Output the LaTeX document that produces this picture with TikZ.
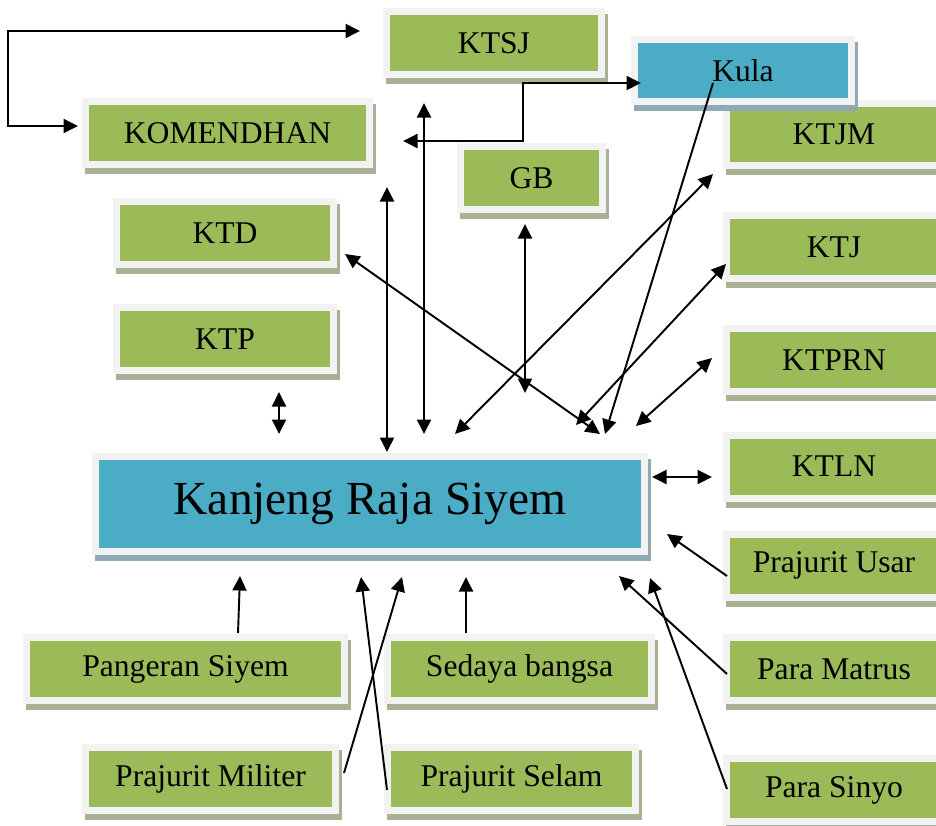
\documentclass[tikz,border=0pt]{standalone}
\usepackage{fontspec}
\setmainfont{Liberation Serif}
\usetikzlibrary{shadows}
\usetikzlibrary{arrows.meta}

\definecolor{hijau}{HTML}{9BBB59}
\definecolor{biru}{HTML}{4BACC6}
\definecolor{bingkai}{HTML}{F2F2F2}
\definecolor{bayanganhijau}{HTML}{A9B195}
\definecolor{bayanganbiru}{HTML}{8FAAB5}

\tikzset{
  kotak/.style 2 args={draw=bingkai, line width=0.14cm, fill=#1, inner sep=0pt,
    minimum height=1.26cm, font=\fontsize{18}{20}\selectfont,
    general shadow={fill=#2, draw=#2, line width=0.14cm,
      shadow xshift=0.06cm, shadow yshift=-0.12cm}},
  kotakH/.style={kotak={hijau}{bayanganhijau}},
  kotakB/.style={kotak={biru}{bayanganbiru}},
  panah/.style={line width=1.1pt}
}

\begin{document}
\begin{tikzpicture}[>={Triangle[length=0.29cm,width=0.28cm]}, x=0.02cm, y=-0.02cm]
    \clip (0,0) rectangle (936,825);

    % kotak kiwa
    \node[kotakH, minimum width=4.3cm] (ktsj) at (494,43) {KTSJ};
    \node[kotakH, minimum width=5.68cm] (komendhan) at (227.5,133) {KOMENDHAN};
    \node[kotakH, minimum width=2.84cm] (gb) at (531.5,178) {GB};
    \node[kotakH, minimum width=4.34cm] (ktd) at (225,233) {KTD};
    \node[kotakH, minimum width=4.34cm] (ktp) at (225,339) {KTP};

    % kotak tengen
    \node[kotakH, minimum width=4.3cm] (ktjm) at (834,134.5) {KTJM};
    \node[kotakB, minimum width=4.34cm] (kula) at (743,70.5) {Kula};
    \node[kotakH, minimum width=4.3cm] (ktj) at (834,247) {KTJ};
    \node[kotakH, minimum width=4.3cm] (ktprn) at (834,360) {KTPRN};
    \node[kotakH, minimum width=4.3cm] (ktln) at (834,466.5) {KTLN};
    \node[kotakH, minimum width=4.3cm] (usar) at (834,565.5) {Prajurit Usar};
    \node[kotakH, minimum width=4.3cm] (matrus) at (834,669) {Para Matrus};
    \node[kotakH, minimum width=4.3cm] (sinyo) at (834,790) {Para Sinyo};

    % kotak utama
    \node[kotakB, minimum width=10.98cm, minimum height=1.9cm,
      font=\fontsize{27}{30}\selectfont] (raja) at (370,504) {Kanjeng Raja Siyem};

    % kotak ngisor
    \node[kotakH, minimum width=6.36cm] (pangeran) at (185.5,669) {Pangeran Siyem};
    \node[kotakH, minimum width=5.28cm] (sedaya) at (519.5,669) {Sedaya bangsa};
    \node[kotakH, minimum width=5cm] (militer) at (210.5,779) {Prajurit Militer};
    \node[kotakH, minimum width=4.96cm] (selam) at (511.5,779) {Prajurit Selam};

    % titik ujung panah
    \coordinate (komenKiri) at (78,126);
    \coordinate (sudutKiri) at (8,126);
    \coordinate (ktsjKiri) at (360,31);
    \coordinate (kulaKiri) at (403,141);
    \coordinate (sudutKula) at (523,83);
    \coordinate (kulaMlebu) at (641,83);
    \coordinate (ktsjNgisor) at (424,103);
    \coordinate (rajaA) at (424,434);
    \coordinate (komenNgisor) at (387,187);
    \coordinate (rajaB) at (387,452);
    \coordinate (ktpNgisor) at (279,392);
    \coordinate (rajaC) at (279,434);
    \coordinate (ktdTengen) at (345,254);
    \coordinate (rajaD) at (600,434);
    \coordinate (gbNgisor) at (525,224);
    \coordinate (rajaE) at (525,393);
    \coordinate (ktjmKiwa) at (713,174);
    \coordinate (rajaF) at (455,434);
    \coordinate (ktjKiwa) at (726,264);
    \coordinate (rajaG) at (576,425);
    \coordinate (kulaTengah) at (713,83);
    \coordinate (rajaH) at (605,434);
    \coordinate (ktprnKiwa) at (712,358);
    \coordinate (rajaI) at (636,426);
    \coordinate (ktlnKiwa) at (712,477);
    \coordinate (rajaJ) at (652,477);
    \coordinate (usarKiwa) at (727,576);
    \coordinate (rajaK) at (667,534);
    \coordinate (matrusKiwa) at (727,674);
    \coordinate (rajaL) at (619,576);
    \coordinate (sinyoKiwa) at (727,789);
    \coordinate (rajaM) at (650,578);
    \coordinate (pangeranNduwur) at (238,633);
    \coordinate (rajaN) at (240,576);
    \coordinate (militerTengen) at (344,773);
    \coordinate (rajaO) at (402,577);
    \coordinate (selamKiwa) at (387,790);
    \coordinate (rajaP) at (361,577);
    \coordinate (sedayaNduwur) at (466,633);
    \coordinate (rajaQ) at (466,577);

    % panah siku
    \draw[panah, <->] (komenKiri) -- (sudutKiri) |- (ktsjKiri);
    \draw[panah, <->] (kulaKiri) -| (sudutKula) -- (kulaMlebu);

    % panah loro arah
    \draw[panah, <->] (ktsjNgisor) -- (rajaA);
    \draw[panah, <->] (komenNgisor) -- (rajaB);
    \draw[panah, <->] (ktpNgisor) -- (rajaC);
    \draw[panah, <->] (ktdTengen) -- (rajaD);
    \draw[panah, <->] (gbNgisor) -- (rajaE);
    \draw[panah, <->] (ktjmKiwa) -- (rajaF);
    \draw[panah, <->] (ktjKiwa) -- (rajaG);
    \draw[panah, <->] (ktprnKiwa) -- (rajaI);
    \draw[panah, <->] (ktlnKiwa) -- (rajaJ);

    % panah siji arah
    \draw[panah, ->] (kulaTengah) -- (rajaH);
    \draw[panah, ->] (usarKiwa) -- (rajaK);
    \draw[panah, ->] (matrusKiwa) -- (rajaL);
    \draw[panah, ->] (sinyoKiwa) -- (rajaM);
    \draw[panah, ->] (pangeranNduwur) -- (rajaN);
    \draw[panah, ->] (militerTengen) -- (rajaO);
    \draw[panah, ->] (selamKiwa) -- (rajaP);
    \draw[panah, ->] (sedayaNduwur) -- (rajaQ);

\end{tikzpicture}
\end{document}
